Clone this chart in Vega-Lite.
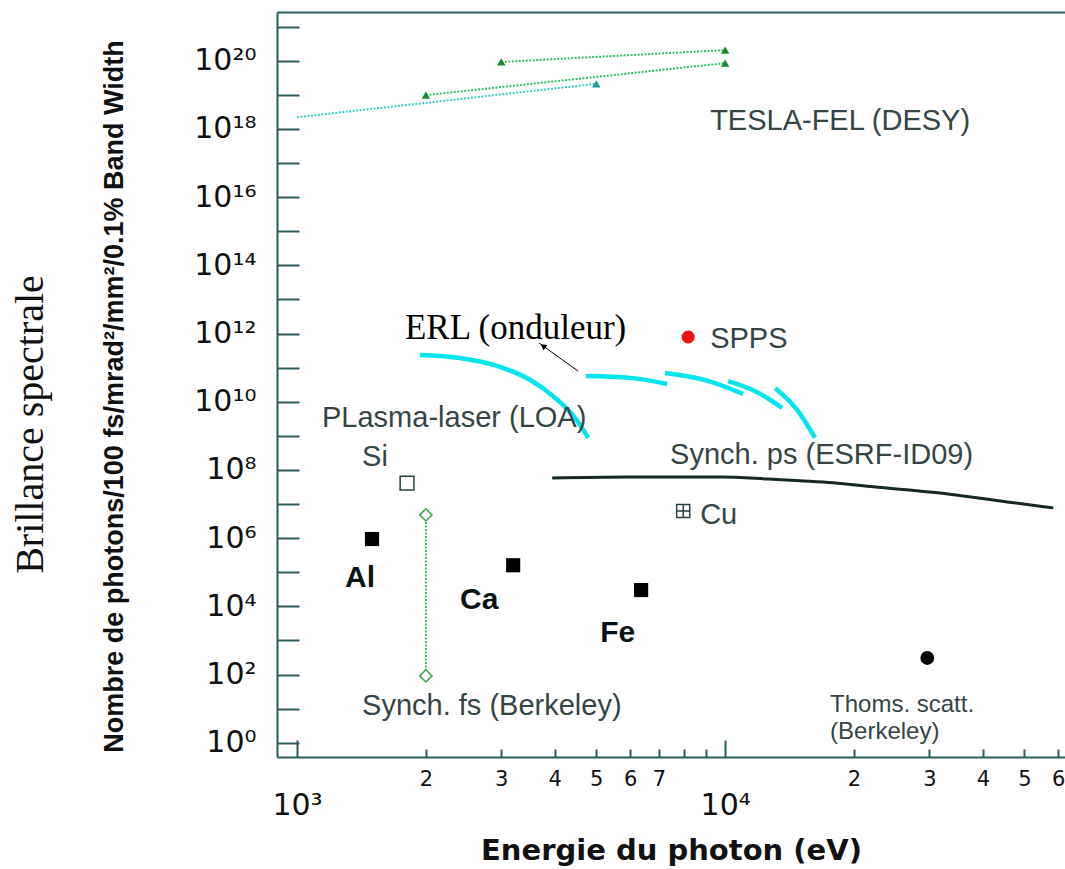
{
  "$schema": "https://vega.github.io/schema/vega-lite/v6.json",
  "width": 788,
  "height": 745,
  "autosize": {"type": "none"},
  "padding": {"left": 277, "top": 12, "right": 0, "bottom": 112},
  "background": "white",
  "config": {"view": {"stroke": null}, "font": "Liberation Sans"},
  "title": {"text": "Brillance spectrale", "orient": "left", "anchor": "middle", "font": "Liberation Serif", "fontSize": 40, "fontWeight": "normal", "color": "#111111", "offset": 50, "dx": -40},
  "datasets": {
    "esrf": [
      {"E": 3945, "B": 5.8e7}, {"E": 5902, "B": 6.2e7}, {"E": 9840, "B": 6.2e7}, {"E": 12600, "B": 5.4e7},
      {"E": 14960, "B": 4.8e7}, {"E": 17870, "B": 4.2e7}, {"E": 22170, "B": 3.2e7}, {"E": 31780, "B": 2.1e7},
      {"E": 45570, "B": 1.15e7}, {"E": 58400, "B": 7.7e6}
    ],
    "erl": [
      {"seg": 1, "E": 1936, "B": 2.34e11}, {"seg": 1, "E": 2404, "B": 1.9e11}, {"seg": 1, "E": 2979, "B": 1.05e11},
      {"seg": 1, "E": 3500, "B": 4.4e10}, {"seg": 1, "E": 4008, "B": 1.3e10}, {"seg": 1, "E": 4465, "B": 3.3e9},
      {"seg": 1, "E": 4789, "B": 8.7e8},
      {"seg": 2, "E": 4732, "B": 5.7e10}, {"seg": 2, "E": 5998, "B": 5.0e10}, {"seg": 2, "E": 7318, "B": 3.3e10},
      {"seg": 3, "E": 7241, "B": 6.9e10}, {"seg": 3, "E": 8985, "B": 4.3e10}, {"seg": 3, "E": 11010, "B": 1.7e10},
      {"seg": 4, "E": 10160, "B": 4.0e10}, {"seg": 4, "E": 11880, "B": 1.9e10}, {"seg": 4, "E": 13590, "B": 6.6e9},
      {"seg": 5, "E": 13090, "B": 2.5e10}, {"seg": 5, "E": 14730, "B": 5.8e9}, {"seg": 5, "E": 16220, "B": 8.7e8}
    ],
    "felGreen": [
      {"s": "A", "E": 3000, "B": 9.2e19}, {"s": "A", "E": 10000, "B": 2.05e20},
      {"s": "B", "E": 2000, "B": 9.8e18}, {"s": "B", "E": 10000, "B": 8.5e19}
    ],
    "felCyan": [
      {"s": "C", "E": 1000, "B": 2.2e18}, {"s": "C", "E": 5000, "B": 2.1e19}
    ],
    "sfs": [{"E": 2000, "B": 4.8e6}, {"E": 2000, "B": 91}],
    "solid": [{"n": "Al", "E": 1497, "B": 9.4e5}, {"n": "Ca", "E": 3198, "B": 1.6e5}, {"n": "Fe", "E": 6364, "B": 3.0e4}],
    "si": [{"n": "Si", "E": 1807, "B": 4.1e7}],
    "cu": [{"n": "Cu", "E": 7980, "B": 6.2e6}],
    "spps": [{"n": "SPPS", "E": 8196, "B": 7.9e11}],
    "thoms": [{"n": "Thoms", "E": 29650, "B": 305}],
    "arrow": [{"E": 4535, "B": 7.9e10}, {"E": 3673, "B": 5.3e11}],
    "arrowHead": [{"E": 3757, "B": 4.3e11}],
    "labelsGray": [
      {"t": "TESLA-FEL (DESY)", "E": 9224, "B": 1.7e18},
      {"t": "PLasma-laser (LOA)", "E": 1144, "B": 3.3e9},
      {"t": "Si", "E": 1419, "B": 2.4e8},
      {"t": "Synch. ps (ESRF-ID09)", "E": 7437, "B": 2.75e8},
      {"t": "Cu", "E": 8743, "B": 4.8e6},
      {"t": "Synch. fs (Berkeley)", "E": 1419, "B": 11.9},
      {"t": "SPPS", "E": 9224, "B": 6.9e11}
    ],
    "labelsThoms": [{"t": "Thoms. scatt.\n(Berkeley)", "E": 17580, "B": 12.7}],
    "labelsBold": [
      {"t": "Al", "E": 1295, "B": 6.8e4},
      {"t": "Ca", "E": 2404, "B": 1.55e4},
      {"t": "Fe", "E": 5105, "B": 1650}
    ],
    "labelsSerif": [{"t": "ERL (onduleur)", "E": 1787, "B": 1.45e12}]
  },
  "encoding": {
    "x": {"field": "E", "type": "quantitative", "scale": {"type": "log", "domain": [898, 62200], "nice": false}, "axis": null},
    "y": {
      "field": "B", "type": "quantitative",
      "scale": {"type": "log", "domain": [0.381, 2.68e21], "nice": false},
      "axis": {
        "orient": "left",
        "title": "Nombre de photons/100 fs/mrad²/mm²/0.1% Band Width",
        "titleFont": "Liberation Sans", "titleFontSize": 27, "titleFontWeight": "bold", "titleColor": "#111111", "titlePadding": 65, "titleY": 384,
        "values": [1, 10, 100, 1000, 1e4, 1e5, 1e6, 1e7, 1e8, 1e9, 1e10, 1e11, 1e12, 1e13, 1e14, 1e15, 1e16, 1e17, 1e18, 1e19, 1e20, 1e21],
        "labelExpr": "round(log(datum.value)/LN10) % 2 == 1 ? '' : '10' + (round(log(datum.value)/LN10) >= 10 ? ['⁰','¹','²','³','⁴','⁵','⁶','⁷','⁸','⁹'][floor(round(log(datum.value)/LN10)/10)] : '') + ['⁰','¹','²','³','⁴','⁵','⁶','⁷','⁸','⁹'][round(log(datum.value)/LN10) % 10]",
        "labelFont": "DejaVu Sans", "labelFontSize": 30, "labelColor": "#111111", "labelPadding": 43,
        "labelOverlap": false, "labelFlush": false,
        "tickSize": -22, "tickWidth": 2, "tickColor": "#2d5a5a",
        "domainColor": "#2d5a5a", "domainWidth": 2, "grid": false
      }
    }
  },
  "resolve": {"axis": {"x": "independent"}},
  "layer": [
    {
      "data": {"name": "esrf"},
      "mark": {"type": "line", "color": "#142828", "strokeWidth": 3, "interpolate": "monotone"},
      "encoding": {
        "x": {
          "field": "E", "type": "quantitative", "scale": {"type": "log", "domain": [898, 62200], "nice": false},
          "axis": {
            "orient": "bottom",
            "title": "Energie du photon (eV)", "titleFont": "DejaVu Sans", "titleFontSize": 29, "titleFontWeight": "bold", "titleColor": "#111111", "titlePadding": 16,
            "values": [1000, 2000, 3000, 4000, 5000, 6000, 7000, 8000, 9000, 10000, 20000, 30000, 40000, 50000, 60000],
            "labelExpr": "datum.value == 1000 ? ['', '10³'] : datum.value == 10000 ? ['', '10⁴'] : (datum.value == 8000 || datum.value == 9000) ? '' : format(datum.value / (datum.value < 10000 ? 1000 : 10000), 'd')",
            "labelFont": "DejaVu Sans",
            "labelFontSize": {"condition": {"test": "datum.value == 1000 || datum.value == 10000", "value": 30}, "value": 21},
            "labelLineHeight": 31, "labelColor": "#111111", "labelPadding": 19.5,
            "labelOverlap": false, "labelFlush": false,
            "tickSize": {"condition": {"test": "datum.value == 1000 || datum.value == 10000", "value": -17}, "value": -8},
            "tickWidth": 2, "tickColor": "#2d5a5a",
            "domainColor": "#2d5a5a", "domainWidth": 2, "grid": false
          }
        }
      }
    },
    {
      "data": {"name": "erl"},
      "mark": {"type": "line", "color": "#00e5ee", "strokeWidth": 4.5, "interpolate": "monotone"},
      "encoding": {
        "detail": {"field": "seg", "type": "nominal"},
        "x": {
          "field": "E", "type": "quantitative", "scale": {"type": "log", "domain": [898, 62200], "nice": false},
          "axis": {"orient": "top", "labels": false, "ticks": false, "title": null, "domainColor": "#2d5a5a", "domainWidth": 2, "grid": false}
        }
      }
    },
    {
      "data": {"name": "felGreen"},
      "mark": {"type": "line", "color": "#33bb66", "strokeWidth": 2, "strokeDash": [2, 1.5]},
      "encoding": {"detail": {"field": "s", "type": "nominal"}}
    },
    {
      "data": {"name": "felCyan"},
      "mark": {"type": "line", "color": "#3cc8c8", "strokeWidth": 2, "strokeDash": [2, 1.5]},
      "encoding": {"detail": {"field": "s", "type": "nominal"}}
    },
    {
      "data": {"name": "felGreen"},
      "mark": {"type": "point", "shape": "triangle-up", "filled": true, "color": "#178a30", "size": 70, "opacity": 1}
    },
    {
      "data": {"name": "felCyan"},
      "transform": [{"filter": "datum.E > 2000"}],
      "mark": {"type": "point", "shape": "triangle-up", "filled": true, "color": "#1a9a9a", "size": 70, "opacity": 1}
    },
    {
      "data": {"name": "sfs"},
      "mark": {"type": "line", "color": "#33bb55", "strokeWidth": 1.8, "strokeDash": [2, 1.5]},
      "encoding": {}
    },
    {
      "data": {"name": "sfs"},
      "mark": {"type": "point", "shape": "diamond", "filled": false, "color": "#33aa44", "fill": "white", "strokeWidth": 1.5, "size": 150, "opacity": 1}
    },
    {
      "data": {"name": "solid"},
      "mark": {"type": "point", "shape": "square", "filled": true, "color": "#000000", "size": 200, "opacity": 1}
    },
    {
      "data": {"name": "si"},
      "mark": {"type": "point", "shape": "square", "filled": false, "fill": "white", "color": "#2a4040", "strokeWidth": 1.5, "size": 190, "opacity": 1}
    },
    {
      "data": {"name": "cu"},
      "mark": {"type": "point", "shape": "M-1,-1H1V1H-1Z M-1,0H1 M0,-1V1", "filled": false, "color": "#2a4040", "strokeWidth": 1.5, "size": 170, "opacity": 1}
    },
    {
      "data": {"name": "spps"},
      "mark": {"type": "point", "shape": "circle", "filled": true, "color": "#ee1111", "size": 170, "opacity": 1}
    },
    {
      "data": {"name": "thoms"},
      "mark": {"type": "point", "shape": "circle", "filled": true, "color": "#000000", "size": 190, "opacity": 1}
    },
    {
      "data": {"name": "arrow"},
      "mark": {"type": "line", "color": "#000000", "strokeWidth": 1},
      "encoding": {}
    },
    {
      "data": {"name": "arrowHead"},
      "mark": {"type": "point", "shape": "triangle-up", "filled": true, "color": "#000000", "size": 45, "angle": 306, "opacity": 1}
    },
    {
      "data": {"name": "labelsGray"},
      "mark": {"type": "text", "align": "left", "baseline": "middle", "font": "Liberation Sans", "fontSize": 29, "color": "#354545"},
      "encoding": {"text": {"field": "t", "type": "nominal"}}
    },
    {
      "data": {"name": "labelsThoms"},
      "mark": {"type": "text", "align": "left", "baseline": "middle", "font": "Liberation Sans", "fontSize": 24, "lineHeight": 27, "lineBreak": "\n", "color": "#354545"},
      "encoding": {"text": {"field": "t", "type": "nominal"}}
    },
    {
      "data": {"name": "labelsBold"},
      "mark": {"type": "text", "align": "left", "baseline": "middle", "font": "Liberation Sans", "fontSize": 30, "fontWeight": "bold", "color": "#0a1414"},
      "encoding": {"text": {"field": "t", "type": "nominal"}}
    },
    {
      "data": {"name": "labelsSerif"},
      "mark": {"type": "text", "align": "left", "baseline": "middle", "font": "Liberation Serif", "fontSize": 35, "color": "#000000"},
      "encoding": {"text": {"field": "t", "type": "nominal"}}
    }
  ]
}
